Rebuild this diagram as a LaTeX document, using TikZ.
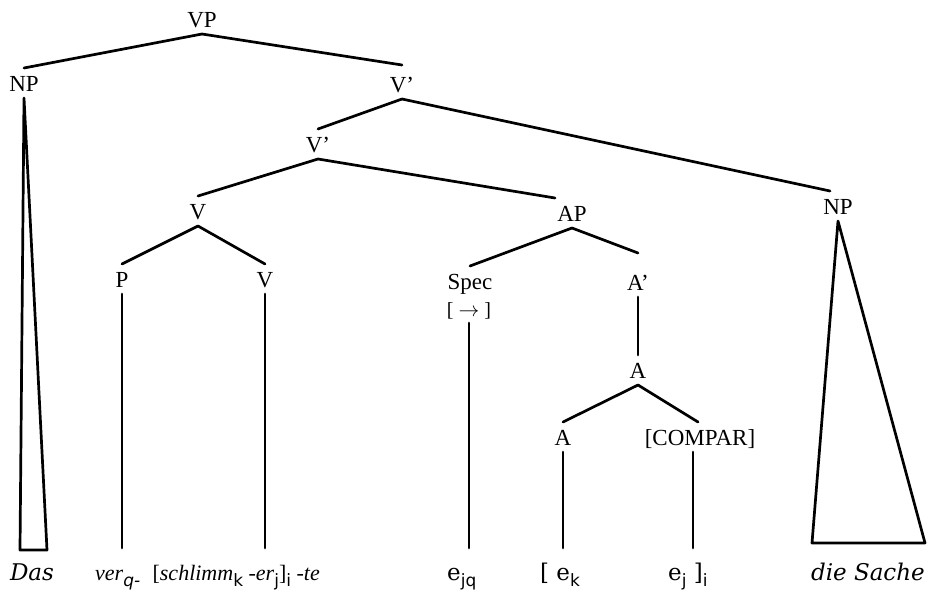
\documentclass[tikz,border=0pt]{standalone}
\usepackage{fontspec}
\setmainfont{Liberation Serif}
\newfontfamily\botfont{DejaVu Serif}
\newfontfamily\subfont{DejaVu Sans}
\newcommand\lsub[1]{\raisebox{-0.3em}{\subfont\fontsize{17}{17}\selectfont #1}}
\begin{document}
\begin{tikzpicture}[x=1pt,y=-1pt,
  lab/.style={font=\fontsize{23}{26}\selectfont, inner sep=2pt, outer sep=5pt, text height=16pt, text depth=0pt, anchor=base},
  leaf/.style={font=\botfont\fontsize{23}{26}\selectfont, inner sep=0pt, anchor=base west},
  tleaf/.style={font=\fontsize{22}{26}\selectfont, inner sep=0pt, anchor=base west},
  br/.style={line width=2.7pt, line cap=round, line join=round}]
\useasboundingbox (0,0) rectangle (928,592);
% tree labels
\node[lab] (VP)  at (202,27)  {VP};
\node[lab] (NPa) at (24,91)   {NP};
\node[lab] (Vb1) at (402,92)  {V'};
\node[lab] (Vb2) at (318,152) {V'};
\node[lab] (V)   at (198,219) {V};
\node[lab] (AP)  at (572,221) {AP};
\node[lab] (NPb) at (838,214) {NP};
\node[lab] (P)   at (122,287) {P};
\node[lab] (Vc)  at (265,287) {V};
\node[lab] (Spec) at (470,289) {Spec};
\node[lab, font=\fontsize{20}{22}\selectfont, text height=13pt] (arr) at (469,316) {[ $\rightarrow$ ]};
\node[lab] (Ab)  at (638,290) {A'};
\node[lab] (A)   at (638,378) {A};
\node[lab] (Aa)  at (563,445) {A};
\node[lab] (CP)  at (700,445) {[COMPAR]};
% leaves
\node[leaf, anchor=base] (das) at (32,580) {\itshape Das};
\node[tleaf] (ver) at (95,580) {\itshape ver\lsub{q-}};
\node[tleaf, anchor=base east] (schl) at (320,580) {[\textit{schlimm}\lsub{k} \textit{-er}\lsub{j}]\lsub{i} \textit{-te}};
\node[leaf] (ejq) at (447,580) {e\lsub{jq}};
\node[leaf] (ek) at (540,580) {[ e\lsub{k}};
\node[leaf] (ej) at (668,580) {e\lsub{j} ]\lsub{i}};
\node[leaf, anchor=base east] (sache) at (925,580) {\itshape die Sache};
% coordinates
\coordinate (bot) at (0,548);
\coordinate (dasL) at (20,550);
\coordinate (dasR) at (47,550);
\coordinate (sL) at (812,543);
\coordinate (sR) at (925,543);
% branches
\draw[br] (VP.south) -- (NPa.north);
\draw[br] (VP.south) -- ([yshift=4pt]Vb1.north);
\draw[br] (Vb1.south) -- (Vb2.north);
\draw[br] (Vb1.south) -- ([xshift=-8pt]NPb.north);
\draw[br] (Vb2.south) -- (V.north);
\draw[br] (Vb2.south) -- ([xshift=-17pt]AP.north);
\draw[br] (V.south) -- (P.north);
\draw[br] (V.south) -- (Vc.north);
\draw[br] (AP.south) -- (Spec.north);
\draw[br] (AP.south) -- ([yshift=14pt]Ab.north);
\draw[br] (Ab.south) -- (A.north);
\draw[br] (A.south) -- (Aa.north);
\draw[br] (A.south) -- ([xshift=-2pt]CP.north);
\draw[br] (P.south) -- (P.south |- bot);
\draw[br] (Vc.south) -- (Vc.south |- bot);
\draw[br] (arr.south) -- (arr.south |- bot);
\draw[br] (Aa.south) -- (Aa.south |- bot);
\draw[br] ([xshift=-7pt]CP.south) -- ([xshift=-7pt]CP.south |- bot);
% triangles
\draw[br] (NPa.south) -- (dasR) -- (dasL) -- cycle;
\draw[br] (NPb.south) -- (sR) -- (sL) -- cycle;
\end{tikzpicture}
\end{document}
